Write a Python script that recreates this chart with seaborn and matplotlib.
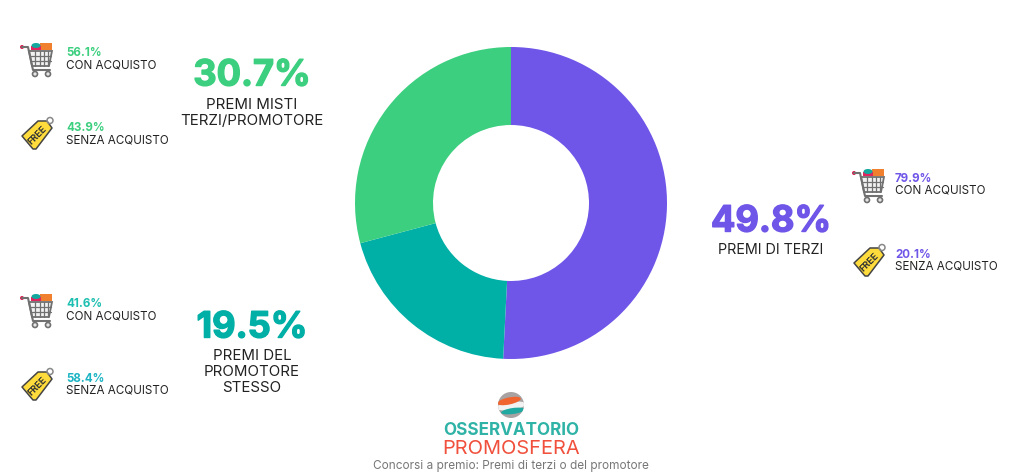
import matplotlib
matplotlib.use("Agg")
import matplotlib.pyplot as plt
import matplotlib.patches as mp
import matplotlib.patheffects as pe
import seaborn as sns

# dati
categorie = ["Premi di terzi", "Premi del promotore stesso", "Premi misti"]
quote = [49.8, 19.5, 30.7]
# ampiezza delle fette come disegnate nel grafico originale
fette = [50.8, 20.05, 29.15]
colori = ["#6F55E8", "#00AFA5", "#3CCF7F"]

con_acquisto = [79.9, 41.6, 56.1]
senza_acquisto = [20.1, 58.4, 43.9]
etichette = ["PREMI DI TERZI", "PREMI DEL\nPROMOTORE\nSTESSO", "PREMI MISTI\nTERZI/PROMOTORE"]
colori_con = ["#6F55E8", "#1DBFB0", "#3CCF7F"]
colori_senza = ["#6F55E8", "#1DB5C4", "#3CCF7F"]

sns.set_theme(style="white")
plt.rcParams["font.family"] = ["Inter", "DejaVu Sans"]

fig = plt.figure(figsize=(10.24, 4.74), dpi=100, facecolor="white")

# ciambella
ax = fig.add_axes([355 / 1024, 115 / 474, 312 / 1024, 312 / 474])
ax.pie(fette, colors=colori, startangle=90, counterclock=False, radius=1,
       wedgeprops=dict(width=0.5, linewidth=0))
ax.set_xlim(-1, 1)
ax.set_ylim(-1, 1)

# layer in pixel per testi e icone
bg = fig.add_axes([0, 0, 1, 1], zorder=5)
bg.set_xlim(0, 1024)
bg.set_ylim(474, 0)
bg.axis("off")
bg.patch.set_alpha(0)


def carrello(x, y):
    g = "#707070"
    bg.add_patch(mp.Rectangle((x + 20, y + 1), 12, 7, color="#F07F2E", lw=0))
    bg.add_patch(mp.Rectangle((x + 11, y + 4), 10, 4, color="#E0245E", lw=0))
    bg.add_patch(mp.Ellipse((x + 16, y + 3.5), 9, 5, color="#13A89E", lw=0))
    bg.plot([x + 2, x + 8, x + 13, x + 30], [y + 5, y + 5, y + 28, y + 28], color=g, lw=1.5)
    bg.add_patch(mp.Polygon([(x + 9, y + 9), (x + 32, y + 9), (x + 29, y + 24), (x + 12, y + 24)],
                            fc="#f2f2f2", ec=g, lw=1.3))
    for k in [15, 19.5, 24, 28]:
        bg.plot([x + k, x + k], [y + 9, y + 24], color=g, lw=0.9)
    for k in [14, 19]:
        bg.plot([x + 10, x + 31], [y + k, y + k], color=g, lw=0.9)
    bg.add_patch(mp.Circle((x + 2, y + 5), 2, color="#D81E4E", lw=0))
    for k in [15, 28]:
        bg.add_patch(mp.Circle((x + k, y + 32), 2.5, fc="#e6e6e6", ec=g, lw=1.2))


def cartellino(x, y):
    bg.add_patch(mp.Polygon([(x, y + 19), (x + 16, y + 4), (x + 25, y + 4), (x + 30, y + 11),
                             (x + 14, y + 32), (x + 11, y + 32)],
                            fc="#FFDC3C", ec="#444444", lw=1.1, joinstyle="round"))
    bg.add_patch(mp.Circle((x + 28, y + 3.5), 3, fc="none", ec="#888888", lw=1.1))
    bg.text(x + 15, y + 18.5, "FREE", fontsize=6.5, fontweight="bold", color="#333333",
            rotation=45, ha="center", va="center")


def sotto_blocco(i, xi, xt, y_cart, y_tag):
    carrello(xi, y_cart)
    bg.text(xt, y_cart + 11, f"{con_acquisto[i]}%", fontsize=8.3, fontweight="bold",
            color=colori_con[i], ha="left", va="center")
    bg.text(xt, y_cart + 23, "CON ACQUISTO", fontsize=8.4, color="#222222", ha="left", va="center")
    cartellino(xi + 2, y_tag)
    bg.text(xt, y_tag + 11, f"{senza_acquisto[i]}%", fontsize=8.3, fontweight="bold",
            color=colori_senza[i], ha="left", va="center")
    bg.text(xt, y_tag + 23, "SENZA ACQUISTO", fontsize=8.4, color="#222222", ha="left", va="center")


sotto_blocco(2, 20, 66, 42, 117)
sotto_blocco(1, 20, 66, 293, 368)
sotto_blocco(0, 852, 895, 168, 244)

# valori grandi
posizioni = [(771, 222, 250, 10.3), (252, 328, 372, 10.8), (252, 76, 113, 10.8)]
for i, (x, y, yl, fs) in enumerate(posizioni):
    t = bg.text(x, y, f"{quote[i]}%", fontsize=26, fontweight="bold", color=colori[i],
                ha="center", va="center")
    t.set_path_effects([pe.withStroke(linewidth=1.0, foreground=colori[i])])
    bg.text(x, yl, etichette[i], fontsize=fs, color="#222222", ha="center", va="center",
            linespacing=1.2)

# logo
sfera = mp.Circle((511, 405), 13, color="#A8A2A2", lw=0)
bg.add_patch(sfera)
for xy, w, h, ang, c in [((511, 406), 30, 8, -8, "#F2F2F2"),
                         ((509, 401), 24, 7, -12, "#F0652F"),
                         ((513, 411), 24, 6, -8, "#1FA9A0")]:
    e = mp.Ellipse(xy, w, h, angle=ang, color=c, lw=0)
    bg.add_patch(e)
    e.set_clip_path(sfera)
bg.text(511, 430.5, "OSSERVATORIO", fontsize=12.3, fontweight="bold", color="#2FB3A6",
        ha="center", va="center")
bg.text(511, 448.5, "PROMOSFERA", fontsize=14.4, color="#F0503C", ha="center", va="center")
bg.text(511, 465.5, "Concorsi a premio: Premi di terzi o del promotore", fontsize=8.5,
        color="#777777", ha="center", va="center")

fig.savefig("out.png", dpi=100)
